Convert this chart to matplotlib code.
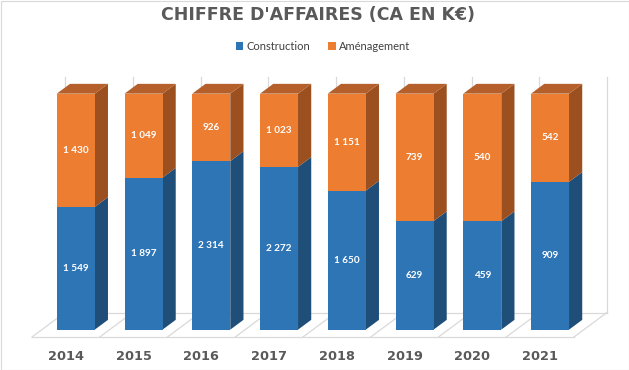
import matplotlib
matplotlib.use("Agg")
import matplotlib.pyplot as plt
from matplotlib.patches import Polygon, Patch

years = ["2014", "2015", "2016", "2017", "2018", "2019", "2020", "2021"]
construction = [1549, 1897, 2314, 2272, 1650, 629, 459, 909]
amenagement = [1430, 1049, 926, 1023, 1151, 739, 540, 542]
series_names = ["Construction", "Aménagement"]

W, H = 629, 370
fig = plt.figure(figsize=(W / 100, H / 100), dpi=100)
ax = fig.add_axes([0, 0, 1, 1])
ax.set_axis_off()

# pixel geometry of the 3D frame
CELL = 67.75       # px per category
X0PX = 32          # front-left of floor
FLOORPX = 337      # front floor edge (px from top)
HPX = 236          # px per 100%
ax.set_xlim(-X0PX / CELL, (W - X0PX) / CELL)
ax.set_ylim((FLOORPX - H) / HPX, FLOORPX / HPX)

DX = 33 / CELL     # depth offset in x units
DY = 24.5 / HPX    # depth offset in y units


def P(x, y, z):
    return (x + z * DX, y + z * DY)


grid_c = "#D9D9D9"
n = len(years)
# floor
ax.plot(*zip(P(0, 0, 0), P(n, 0, 0)), color=grid_c, lw=0.9, zorder=1)
ax.plot(*zip(P(0, 0, 1), P(n, 0, 1)), color=grid_c, lw=0.9, zorder=1)
for k in range(n + 1):
    ax.plot(*zip(P(k, 0, 0), P(k, 0, 1)), color=grid_c, lw=0.9, zorder=1)
    ax.plot(*zip(P(k, 0, 1), P(k, 1, 1)), color=grid_c, lw=0.9, zorder=1)

colors = {
    "blue": ("#2E75B6", "#1F4E79", "#25609A"),
    "orange": ("#ED7D31", "#9C4F1F", "#B5602A"),
}

bw = 38 / CELL
z0, z1 = 0.3, 0.7
for i in range(n):
    tot = construction[i] + amenagement[i]
    segs = [(0, construction[i] / tot, "blue", construction[i]),
            (construction[i] / tot, 1.0, "orange", amenagement[i])]
    x0 = i + (1 - bw) / 2
    x1 = x0 + bw
    for (y0, y1, cname, val) in segs:
        front, side, top = colors[cname]
        ax.add_patch(Polygon([P(x1, y0, z0), P(x1, y0, z1), P(x1, y1, z1), P(x1, y1, z0)],
                             closed=True, facecolor=side, edgecolor="none", zorder=2))
        ax.add_patch(Polygon([P(x0, y0, z0), P(x1, y0, z0), P(x1, y1, z0), P(x0, y1, z0)],
                             closed=True, facecolor=front, edgecolor="none", zorder=3))
        if y1 >= 1.0:
            ax.add_patch(Polygon([P(x0, y1, z0), P(x1, y1, z0), P(x1, y1, z1), P(x0, y1, z1)],
                                 closed=True, facecolor=top, edgecolor="none", zorder=3))
        tx, ty = P(i + 0.5, (y0 + y1) / 2, z0)
        ax.text(tx, ty, f"{val:,}".replace(",", " "), ha="center", va="center",
                color="white", fontsize=7.2, fontweight="bold", family="Lato", zorder=5)
    ax.text(i + 0.5, (FLOORPX - 356) / HPX, years[i], ha="center", va="center",
            color="#595959", fontsize=9.3, fontweight="bold", family="DejaVu Sans")

fig.text(318 / W, 1 - 15 / H, "CHIFFRE D'AFFAIRES (CA EN K€)", ha="center", va="center",
         color="#595959", fontsize=12.5, fontweight="bold", family="DejaVu Sans")

handles = [Patch(facecolor="#2E75B6"), Patch(facecolor="#ED7D31")]
fig.legend(handles, series_names, loc="center", bbox_to_anchor=(323 / W, 1 - 46 / H),
           ncol=2, frameon=False, handlelength=0.7, handleheight=0.7, handletextpad=0.3,
           columnspacing=1.6, prop={"family": "Lato", "size": 8}, labelcolor="#404040")

# chart border
fig.add_artist(plt.Rectangle((0.5 / W, 0.5 / H), 1 - 1 / W, 1 - 1 / H, transform=fig.transFigure,
                             fill=False, edgecolor="#D9D9D9", lw=0.8))

fig.savefig("out.png", dpi=100)
